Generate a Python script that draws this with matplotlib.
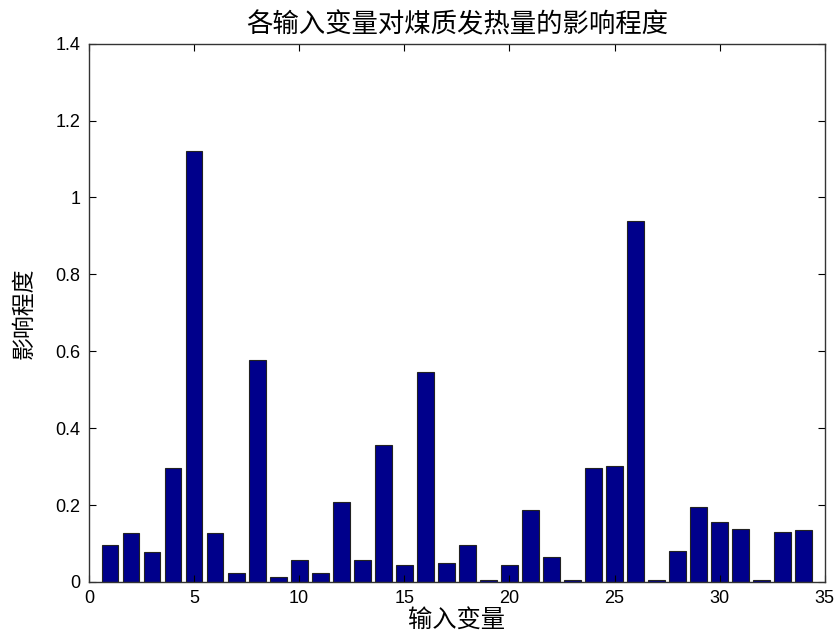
import numpy as np
import matplotlib.pyplot as plt

plt.rcParams['font.family'] = ['Liberation Sans', 'Noto Sans CJK SC', 'DejaVu Sans']

# input variable index and its influence
variables = np.arange(1, 35)
influence = [0.097, 0.126, 0.077, 0.297, 1.12, 0.126, 0.022, 0.577, 0.013, 0.058,
             0.022, 0.208, 0.058, 0.355, 0.045, 0.545, 0.048, 0.097, 0.004, 0.045,
             0.187, 0.066, 0.004, 0.297, 0.301, 0.94, 0.004, 0.081, 0.196, 0.155,
             0.138, 0.004, 0.130, 0.134]
xticks = [0, 5, 10, 15, 20, 25, 30, 35]
yticks = [0, 0.2, 0.4, 0.6, 0.8, 1, 1.2, 1.4]
yticklabels = ['0', '0.2', '0.4', '0.6', '0.8', '1', '1.2', '1.4']

fig = plt.figure(figsize=(8.39, 6.43), dpi=100)
ax = fig.add_axes([0.106, 0.095, 0.877, 0.837])

ax.bar(variables, influence, width=0.8, color='#00008B', edgecolor='#222222', linewidth=0.8)

ax.set_xlim(0, 35)
ax.set_ylim(0, 1.4)
ax.set_xticks(xticks)
ax.set_yticks(yticks)
ax.set_yticklabels(yticklabels)
ax.tick_params(direction='in', top=True, right=True, length=5, labelsize=13, pad=6)
for s in ax.spines.values():
    s.set_color('#333333')
    s.set_linewidth(1)

cjk = ['Noto Sans CJK SC', 'DejaVu Sans']
ax.set_title('各输入变量对煤质发热量的影响程度', family=cjk, fontsize=19, pad=8)
ax.set_xlabel('输入变量', family=cjk, fontsize=17.5, labelpad=0)
ax.set_ylabel('影响程度', family=cjk, fontsize=16.5, labelpad=14)

fig.savefig('out.png', dpi=100)
